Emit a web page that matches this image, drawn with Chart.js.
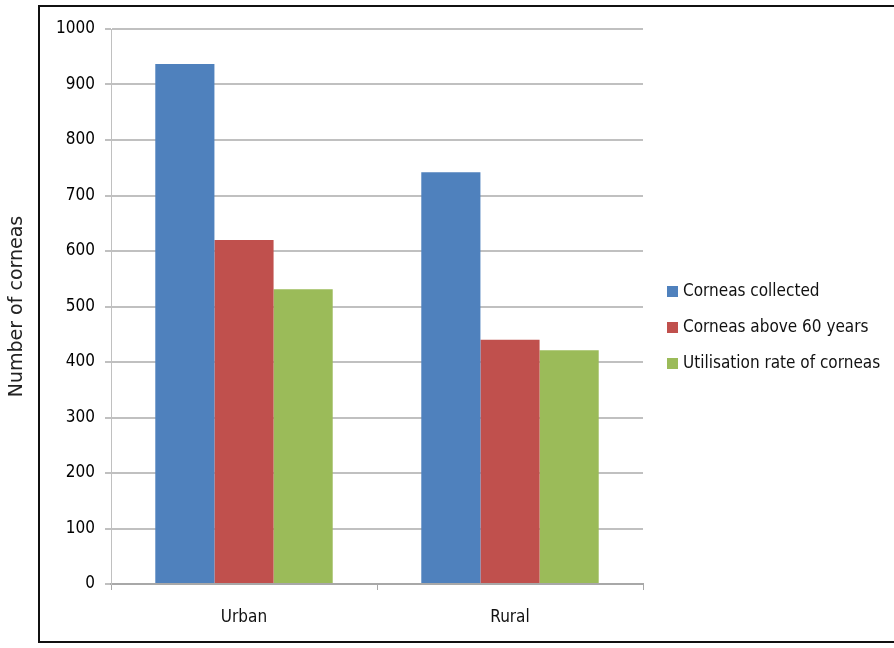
<!DOCTYPE html>
<html><head><meta charset="utf-8">
<script src="https://cdn.jsdelivr.net/npm/chart.js@4"></script>
<style>
html,body{margin:0;padding:0;background:#fff;}
#wrap{position:relative;width:894px;height:648px;overflow:hidden;}
#frame{position:absolute;left:38px;top:5px;width:900px;height:638px;border:2px solid #111;box-sizing:border-box;}
canvas{position:absolute;left:0;top:0;}
</style></head>
<body>
<div id="wrap"><div id="frame"></div><canvas id="c" width="894" height="648"></canvas></div>
<script>
const categories = ["Urban", "Rural"];
const seriesNames = ["Corneas collected", "Corneas above 60 years", "Utilisation rate of corneas"];
const corneasCollected = [937, 742];
const corneasAbove60 = [620, 440];
const utilisationRate = [531, 421];
const yTicks = [0,100,200,300,400,500,600,700,800,900,1000];
const colors = ["#4f81bd", "#c0504d", "#9bbb59"];
const FONT = "'Liberation Sans Narrow','DejaVu Sans Condensed','Liberation Sans',sans-serif";

const legendPlugin = {
  id: 'customLegend',
  afterDraw(chart) {
    const ctx = chart.ctx;
    ctx.save();
    ctx.font = "17px " + FONT;
    ctx.textBaseline = 'middle';
    chart.data.datasets.forEach((ds, i) => {
      const y = 292 + i * 36;
      ctx.fillStyle = ds.backgroundColor;
      ctx.fillRect(667, y - 6, 11, 11);
      ctx.fillStyle = '#111';
      ctx.fillText(ds.label, 683, y);
    });
    ctx.restore();
  }
};

new Chart(document.getElementById('c'), {
  type: 'bar',
  data: {
    labels: categories,
    datasets: [
      {label: seriesNames[0], data: corneasCollected, backgroundColor: colors[0]},
      {label: seriesNames[1], data: corneasAbove60, backgroundColor: colors[1]},
      {label: seriesNames[2], data: utilisationRate, backgroundColor: colors[2]}
    ]
  },
  options: {
    responsive: false,
    animation: false,
    devicePixelRatio: 1,
    layout: {padding: {top: 29, right: 251, left: 0, bottom: 0}},
    datasets: {bar: {categoryPercentage: 0.667, barPercentage: 1.0, borderWidth: 0}},
    plugins: {legend: {display: false}, tooltip: {enabled: false}},
    scales: {
      x: {
        grid: {display: true, drawOnChartArea: false, drawTicks: true, tickLength: 6, color: '#a8a8a8', lineWidth: 1},
        border: {color: '#a8a8a8', width: 2},
        ticks: {color: '#111', font: {family: FONT, size: 17}, padding: 17},
        afterFit(s) { s.height = 64; }
      },
      y: {
        min: 0, max: 1000,
        afterBuildTicks(s) { s.ticks = yTicks.map(v => ({value: v})); },
        grid: {color: '#c0c0c0', lineWidth: 2, tickLength: 6},
        border: {color: '#c0c0c0', width: 1},
        ticks: {color: '#000', font: {family: FONT, size: 17}, padding: 10, callback: v => String(v)},
        title: {display: true, text: 'Number of corneas', color: '#222', font: {family: "'DejaVu Sans',sans-serif", size: 19}, padding: {top: 6, bottom: 0}},
        afterFit(s) { s.width = 111; }
      }
    }
  },
  plugins: [legendPlugin]
});
</script>
</body></html>
